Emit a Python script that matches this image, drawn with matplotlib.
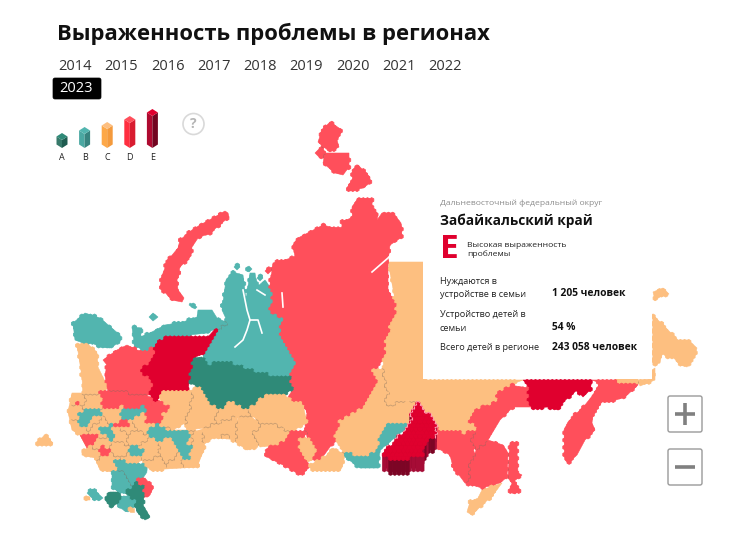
import numpy as np
import matplotlib
matplotlib.use("Agg")
import matplotlib.pyplot as plt
from matplotlib import font_manager
from matplotlib.collections import PolyCollection, LineCollection
from matplotlib.patches import FancyBboxPatch, Rectangle, Circle, Polygon
from matplotlib.path import Path

# first family here that really ships a bold face
installed = font_manager.fontManager.ttflist
main_family = next(f for f in ["Open Sans", "Roboto", "Inter", "Liberation Sans", "DejaVu Sans"]
                   if any(e.name == f and e.weight in (600, 700, "bold", "semibold") for e in installed))
plt.rcParams['font.family'] = [main_family, 'DejaVu Sans']

title = "Выраженность проблемы в регионах"
years = ["2014", "2015", "2016", "2017", "2018", "2019", "2020", "2021", "2022"]
active_year = "2023"

levels = ["A", "B", "C", "D", "E"]
level_height = [15, 21, 26, 32, 39]
colors = {"A": "#2f8a78", "B": "#52b5af", "C": "#fdbf80", "D": "#ff4f5b", "E": "#e0002e"}
left_face = {"A": "#37796a", "B": "#4aa8a2", "C": "#fda848", "D": "#ff2f40", "E": "#ae0a30"}
right_face = {"A": "#1f5c50", "B": "#37847f", "C": "#f49a3c", "D": "#d81c30", "E": "#720520"}

panel_district = "Дальневосточный федеральный округ"
panel_region = "Забайкальский край"
panel_grade = "E"
panel_grade_text = "Высокая выраженность\nпроблемы"
panel_rows = [("Нуждаются в\nустройстве в семьи", "1 205 человек"),
              ("Устройство детей в\nсемьи", "54 %"),
              ("Всего детей в регионе", "243 058 человек")]

# region outlines, map pixels
novaya_zemlya = [(228,213),(225,211),(213,218),(200,225),(192,230),(180,240),(178,248),(168,260),(163,273),(160,287),(172,300),(182,302),(184,298),(178,290),(177,280),(180,267),(190,257),(192,247),(198,238),(210,233),(229,217)]
sev_zemlya_1 = [(330,122),(342,130),(337,140),(339,147),(330,152),(318,142),(322,130)]
sev_zemlya_2 = [(320,148),(326,153),(320,158),(315,153)]
sev_zemlya_3 = [(325,153),(349,153),(349,167),(343,175),(335,173),(323,163)]
sev_zemlya_4 = [(358,165),(370,177),(370,183),(363,188),(350,191),(347,188),(353,178),(352,170)]
krasnoyarsk = [(273,263),(295,257),(293,245),(298,238),(323,225),(342,230),(342,222),(353,217),(352,207),(358,198),(372,199),(372,208),(378,214),(377,220),(382,213),(393,213),(401,223),(402,237),(390,245),(388,262),(388,290),(397,310),(385,340),(385,355),(374,370),(377,383),(368,397),(367,407),(355,418),(340,420),(335,440),(322,458),(315,459),(307,437),(305,425),(307,413),(305,407),(288,397),(294,388),(290,378),(295,363),(280,333),(282,320),(270,313),(270,285)]
tuva_red = [(290,432),(265,450),(267,457),(287,467),(300,475),(310,467),(303,452),(300,440),(307,432)]
khakassia = [(305,437),(315,445),(315,458),(308,462),(300,452),(300,440)]
irkutsk_low = [(310,465),(325,457),(333,448),(345,455),(342,467),(340,471),(312,470)]
irkutsk = [(340,420),(358,412),(368,398),(377,383),(373,370),(383,370),(388,395),(383,407),(407,400),(417,403),(410,425),(385,425),(380,440),(378,448),(365,458),(345,452),(335,440)]
yakutia = [(388,262),(425,262),(425,380),(523,380),(510,385),(497,395),(497,402),(473,410),(470,422),(477,430),(465,433),(443,432),(435,425),(427,412),(418,402),(407,400),(383,407),(388,395),(383,370),(385,340),(397,310)]
khabarovsk = [(523,380),(592,380),(590,390),(583,397),(577,390),(562,403),(558,410),(548,407),(533,408),(523,402),(532,398),(527,393),(530,387)]
amur = [(497,393),(510,385),(522,387),(530,390),(527,400),(532,407),(513,407),(500,420),(488,440),(476,450),(470,437),(477,430),(470,422),(473,410),(497,402)]
primorye_red = [(476,450),(488,440),(503,445),(508,453),(507,477),(500,483),(482,488),(465,483),(470,478),(468,465),(475,455)]
chita_red = [(436,428),(443,432),(465,433),(477,430),(470,437),(475,455),(468,465),(470,478),(465,483),(453,467),(450,455),(437,448)]
primorye = [(482,490),(502,483),(493,495),(480,507),(472,515),(467,512),(470,502),(478,498)]
sakhalin = [(510,443),(517,443),(517,452),(518,473),(522,475),(513,482),(520,490),(515,494),(509,492),(512,483),(508,478)]
kamchatka = [(592,380),(638,380),(638,385),(625,397),(610,402),(602,402),(593,413),(592,423),(595,430),(585,440),(577,455),(568,463),(565,460),(564,430),(568,422),(575,415),(585,405),(593,395),(600,383)]
magadan = [(615,379),(638,379),(637,384),(625,383),(617,382)]
magadan_edge = [(652,370),(655,368),(655,380),(640,386),(638,380),(652,379)]
chukotka = [(653,315),(678,340),(688,340),(697,348),(695,355),(687,367),(680,365),(673,357),(667,358),(662,352),(660,363),(653,365)]
wrangel = [(653,292),(663,288),(669,294),(660,297),(655,300)]
buryatia = [(385,425),(410,425),(380,450),(378,468),(360,468),(345,457),(345,452),(365,458),(378,448),(380,440)]
zabaykalsky = [(419,402),(427,412),(435,425),(436,433),(428,442),(422,455),(412,458),(400,460),(378,457),(388,447),(408,427),(410,417),(415,408)]

yamal = [(222,310),(226,280),(233,272),(243,275),(246,300),(250,273),(255,273),(257,287),(265,280),(272,290),(270,313),(282,320),(280,333),(295,363),(290,379),(257,373),(238,365),(222,362),(207,365),(203,355),(217,328),(228,323)]
nenets = [(132,327),(142,328),(140,337),(150,333),(165,325),(183,322),(197,317),(198,310),(212,310),(217,318),(228,323),(217,328),(207,333),(163,338),(153,348),(145,352),(135,345),(133,335)]
kola = [(73,323),(85,313),(100,318),(120,335),(120,342),(110,348),(100,347),(90,342),(83,343),(75,340)]
karelia = [(77,345),(87,343),(97,353),(98,367),(108,388),(102,393),(83,397),(82,377)]
komi = [(163,338),(207,338),(217,327),(218,333),(205,353),(193,358),(188,390),(163,393),(152,405),(151,390),(152,383),(140,370),(155,358),(153,348)]
arkhangelsk = [(117,350),(127,345),(137,350),(145,352),(153,348),(157,360),(140,370),(152,383),(151,395),(110,395),(107,388),(105,375),(107,365),(103,360)]
vologda = [(100,393),(110,390),(143,395),(155,398),(170,407),(163,415),(160,425),(147,422),(143,413),(123,407),(103,411),(98,400)]
tyumen = [(202,357),(207,365),(222,362),(238,365),(257,373),(290,378),(294,388),(283,395),(260,397),(248,412),(230,402),(218,412),(207,397),(200,387),(190,383),(190,373),(193,358)]
perm = [(162,393),(193,390),(190,407),(185,423),(173,430),(160,427),(163,415),(170,407),(160,400)]
sverdlovsk = [(193,388),(200,387),(218,412),(215,423),(205,428),(187,430),(185,423),(190,407)]
kurgan = [(218,412),(230,402),(248,412),(254,417),(237,418),(236,432),(240,440),(205,437),(205,428),(215,423)]
tomsk = [(260,397),(283,395),(303,405),(307,423),(288,433),(277,425),(260,423),(252,415),(248,412)]
kemerovo = [(260,425),(277,425),(288,433),(289,438),(278,445),(260,447),(253,433)]
novosib = [(238,417),(253,418),(260,425),(253,433),(258,447),(247,450),(237,443),(235,432)]
omsk = [(200,430),(215,423),(237,417),(235,432),(237,443),(225,435),(213,438),(203,445)]
chelyabinsk = [(193,432),(200,430),(205,447),(200,457),(197,467),(183,467),(180,455),(190,445)]
central = [(72,393),(102,393),(102,410),(123,407),(143,413),(147,422),(160,425),(173,430),(187,430),(193,432),(205,447),(197,467),(150,470),(143,460),(113,472),(100,470),(95,458),(82,455),(82,452),(87,448),(80,435),(72,430),(68,412)]
central_seeds = [(78,397),(92,402),(72,414),(75,428),(90,420),(100,428),(113,417),(128,428),(142,424),(120,437),(134,437),(100,445),(90,453),(118,448),(150,452),(165,452),(180,465),(130,462),(110,462),(155,465)]
t1 = [(78,415),(88,410),(102,410),(102,415),(93,418),(88,427),(82,427),(78,420)]
t2 = [(120,418),(123,410),(143,407),(147,412),(137,417),(127,420)]
t3 = [(148,430),(157,425),(173,432),(188,430),(193,437),(187,445),(193,442),(190,460),(180,458),(178,447),(170,438),(157,442),(148,437)]
t4 = [(98,430),(112,425),(110,430),(117,437),(110,442),(105,433),(100,435)]
t5 = [(125,450),(137,445),(145,452),(138,457),(130,455)]
r1 = [(73,402),(77,400),(82,405),(79,407)]
r2 = [(113,427),(123,420),(132,425),(125,428)]
r3 = [(80,435),(93,433),(100,438),(87,448)]
r4 = [(98,450),(103,447),(110,450),(110,455),(103,457),(98,453)]
kaliningrad = [(37,442),(45,435),(53,443),(48,445),(38,445)]
krasnodar = [(112,458),(125,462),(145,465),(147,472),(137,487),(130,493),(120,493),(112,487),(117,477),(118,470)]
stavropol = [(112,472),(120,470),(132,487),(120,493),(112,487)]
astrakhan = [(138,480),(145,478),(153,488),(150,495),(143,498),(145,490)]
crimea = [(87,493),(93,489),(103,498),(100,500),(92,498)]
sevastopol = [(86,496),(90,497),(90,500),(86,500)]
adygea = [(110,492),(120,492),(122,500),(112,507),(105,500)]
kbr = [(120,497),(133,495),(137,503),(128,512),(118,507)]
dagestan = [(125,493),(137,483),(145,487),(143,505),(150,517),(145,520),(137,512),(134,500)]
ossetia = [(130,508),(134,508),(134,512),(130,512)]
isl_1 = [(237,264),(240,267),(237,270),(234,267)]
isl_2 = [(249,266),(252,269),(249,272),(246,269)]
isl_3 = [(260,275),(263,278),(260,281),(257,278)]
isl_4 = [(190,303),(197,307),(195,309),(189,305)]
isl_5 = [(153,313),(158,317),(153,321),(149,317)]
isl_6 = [(268,268),(271,271),(268,274),(265,271)]

regions = [
    ("D", novaya_zemlya), ("D", sev_zemlya_1), ("D", sev_zemlya_2), ("D", sev_zemlya_3), ("D", sev_zemlya_4),
    ("C", yakutia), ("D", krasnoyarsk), ("D", tuva_red), ("C", khakassia), ("C", irkutsk_low), ("C", irkutsk),
    ("E", khabarovsk), ("D", amur), ("D", chita_red), ("D", primorye_red), ("C", primorye), ("D", sakhalin),
    ("D", kamchatka), ("C", magadan), ("C", magadan_edge), ("C", chukotka), ("C", wrangel), ("B", buryatia),
    ("B", yamal), ("B", nenets), ("B", kola), ("C", karelia), ("D", arkhangelsk), ("D", vologda), ("E", komi),
    ("A", tyumen), ("C", perm), ("C", sverdlovsk), ("C", kurgan), ("C", tomsk), ("C", kemerovo), ("C", novosib),
    ("C", omsk), ("C", central), ("C", chelyabinsk), ("B", t1), ("B", t2), ("B", t3), ("B", t4), ("B", t5),
    ("D", r1), ("D", r2), ("D", r3), ("D", r4), ("C", kaliningrad), ("B", krasnodar), ("B", stavropol),
    ("D", astrakhan), ("B", crimea), ("C", sevastopol), ("A", adygea), ("B", kbr), ("A", dagestan), ("C", ossetia),
    ("B", isl_1), ("B", isl_2), ("B", isl_3), ("B", isl_4), ("B", isl_5), ("D", isl_6), ("E", zabaykalsky),
]

# white rivers and straits that cut the map
gaps = [[(243,290),(247,310),(250,320),(247,330),(243,340),(235,347)],
        [(250,320),(258,320),(262,333)],
        [(257,290),(265,295)],
        [(282,293),(283,307)],
        [(372,272),(388,258),(400,245)]]

HEX_W = 4.2
HEX_SIDE = HEX_W / np.sqrt(3)
ROW_H = 1.5 * HEX_SIDE
DROP = 15


def build_grid():
    centers = []
    keys = []
    for r in range(int(100 / ROW_H), int(530 / ROW_H)):
        for c in range(int(30 / HEX_W), int(710 / HEX_W)):
            centers.append((c * HEX_W + (r % 2) * HEX_W / 2, r * ROW_H))
            keys.append((r, c))
    return np.array(centers), keys


def hex_verts(x, y):
    angles = np.radians(np.arange(30, 390, 60))
    return np.column_stack([x + HEX_SIDE * np.cos(angles), y + HEX_SIDE * np.sin(angles)])


centers, keys = build_grid()
owner = np.full(len(centers), -1)
for i, (lev, poly) in enumerate(regions):
    mask = Path(poly + [poly[0]]).contains_points(centers)
    if not mask.any():
        mid = np.mean(poly, axis=0)
        mask[np.argmin(((centers - mid) ** 2).sum(axis=1))] = True
    owner[mask] = i

# split the central part into oblasts around its seeds
central_id = [i for i, r in enumerate(regions) if r[1] is central][0]
sub = np.zeros(len(centers), dtype=int)
seeds = np.array(central_seeds)
for k in np.where(owner == central_id)[0]:
    sub[k] = 1 + np.argmin(((seeds - centers[k]) ** 2).sum(axis=1))

fig = plt.figure(figsize=(7.46, 5.59), dpi=100)
ax = fig.add_axes([0, 0, 1, 1])
ax.set_xlim(0, 746)
ax.set_ylim(559, 0)
ax.axis("off")

# flat fill under the cells closes the seams between them
for lev, poly in regions:
    if poly is not zabaykalsky:
        ax.add_patch(Polygon(poly, fc=colors[lev], ec=colors[lev], lw=0.4, zorder=1.5))

filled = np.where(owner >= 0)[0]
zab_id = [i for i, r in enumerate(regions) if r[1] is zabaykalsky][0]
base = filled[owner[filled] != zab_id]
face = [colors[regions[owner[k]][0]] for k in base]
ax.add_collection(PolyCollection([hex_verts(*centers[k]) for k in base], facecolors=face,
                                 edgecolors=face, linewidths=0.6, zorder=2))

# borders between neighbouring regions
index = {key: k for k, key in enumerate(keys)}
same_level = []
zab_edge = []
for k in filled:
    r, c = keys[k]
    shift = r % 2
    for key in [(r, c + 1), (r + 1, c - 1 + shift), (r + 1, c + shift)]:
        j = index.get(key)
        if j is None or owner[j] < 0:
            continue
        if owner[j] == owner[k] and sub[j] == sub[k]:
            continue
        a, b = centers[k], centers[j]
        m = (a + b) / 2
        d = (b - a) / np.hypot(*(b - a))
        p = np.array([-d[1], d[0]]) * HEX_SIDE / 2
        seg = [m - p, m + p]
        if zab_id in (owner[k], owner[j]):
            zab_edge.append(seg)
        elif regions[owner[k]][0] == regions[owner[j]][0]:
            same_level.append(seg)
ax.add_collection(LineCollection(same_level, colors="#7a6a5c", alpha=0.4, linewidths=0.6, zorder=2.5))

for line in gaps:
    xs, ys = zip(*line)
    ax.plot(xs, ys, color="white", lw=1.2, zorder=2.6)

# selected region stands up from the map
zab = filled[owner[filled] == zab_id]
zab = zab[np.argsort(centers[zab][:, 1])]
sides = []
side_colors = []
for k in zab:
    x, y = centers[k]
    v = hex_verts(x, y + DROP)
    sides.append(np.vstack([[(x + HEX_W / 2, y)], v[:3], [(x - HEX_W / 2, y)]]))
    side_colors.append("#a60c36" if int(round(2 * x / HEX_W)) % 2 else "#7c0525")
ax.add_collection(PolyCollection(sides, facecolors=side_colors, edgecolors=side_colors, linewidths=0.2, zorder=3))
ax.add_collection(PolyCollection([hex_verts(*centers[k]) for k in zab], facecolors=colors["E"],
                                 edgecolors=colors["E"], linewidths=0.5, zorder=4))
ax.add_collection(LineCollection(zab_edge, colors="#ff9db0", linewidths=0.8, zorder=4.5))

# title and years
ax.text(57, 34, title, fontsize=15.8, fontweight="bold", color="#111111", va="center", ha="left", zorder=6)
for i, y in enumerate(years):
    ax.text(75 + i * 46.3, 67, y, fontsize=10.5, color="#333333", va="center", ha="center", zorder=6)
ax.add_patch(FancyBboxPatch((53, 78), 48, 21, boxstyle="round,pad=0,rounding_size=2", fc="black", ec="black", lw=0.5, zorder=6))
ax.text(76, 89, active_year, fontsize=10.5, color="white", va="center", ha="center", zorder=7)

# legend prisms
for i, lev in enumerate(levels):
    x = 62 + i * 22.6
    bot = 148
    top = bot - level_height[i]
    hw = 5.5
    ax.add_patch(Polygon([(x - hw, top + 3.5), (x, top + 7), (x, bot), (x - hw, bot - 3.5)], fc=left_face[lev], ec="none", zorder=6))
    ax.add_patch(Polygon([(x + hw, top + 3.5), (x, top + 7), (x, bot), (x + hw, bot - 3.5)], fc=right_face[lev], ec="none", zorder=6))
    ax.add_patch(Polygon([(x - hw, top + 3.5), (x, top), (x + hw, top + 3.5), (x, top + 7)], fc=colors[lev], ec="none", zorder=6))
    ax.text(x, 158, lev, fontsize=6.5, color="#222222", va="center", ha="center", zorder=6)

ax.add_patch(Circle((193.5, 124), 10.5, fc="white", ec="#d9d9d9", lw=1.2, zorder=6))
ax.text(193.5, 124, "?", fontsize=10, fontweight="bold", color="#b5b5b5", va="center", ha="center", zorder=7)

# info panel
ax.add_patch(Rectangle((423, 190), 229, 189, fc="white", ec="none", zorder=5.1))
ax.text(440, 203, panel_district, fontsize=6.1, color="#8c8c8c", va="center", ha="left", zorder=6)
ax.text(440, 221, panel_region, fontsize=9.8, fontweight="bold", color="#111111", va="center", ha="left", zorder=6)
ax.text(440, 250, panel_grade, fontsize=24, fontweight="bold", color=colors["E"], va="center", ha="left", zorder=6)
ax.text(467, 250, panel_grade_text, fontsize=6.1, color="#222222", va="center", ha="left", linespacing=1.25, zorder=6)
row_y = [288, 321.5, 348]
value_y = [294, 328, 348]
for (label, value), ly, vy in zip(panel_rows, row_y, value_y):
    ax.text(440, ly, label, fontsize=6.6, color="#222222", va="center", ha="left", linespacing=1.6, zorder=6)
    ax.text(552, vy, value, fontsize=7.4, fontweight="bold", color="#111111", va="center", ha="left", zorder=6)

# zoom buttons
for top, sign in [(396, "+"), (449, "-")]:
    ax.add_patch(FancyBboxPatch((668, top), 34, 36, boxstyle="round,pad=0,rounding_size=2", fc="white", ec="#9a9a9a", lw=1, zorder=6))
    ax.plot([675, 695], [top + 18, top + 18], color="#808080", lw=2.6, zorder=7, solid_capstyle="butt")
    if sign == "+":
        ax.plot([685, 685], [top + 7, top + 29], color="#808080", lw=2.6, zorder=7, solid_capstyle="butt")

fig.savefig("out.png", dpi=100)
